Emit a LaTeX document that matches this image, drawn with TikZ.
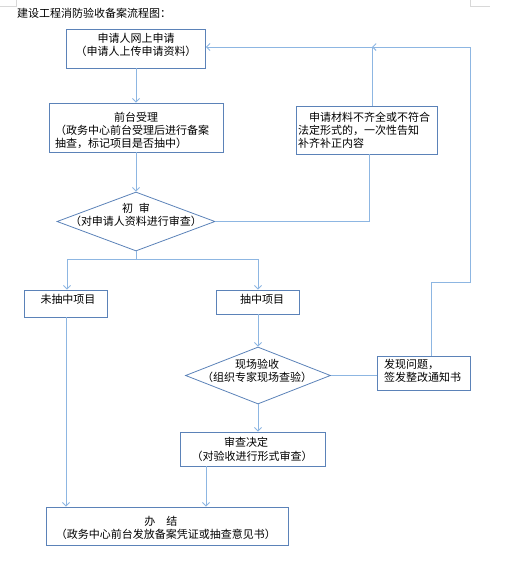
\documentclass[tikz,border=0pt]{standalone}
\usepackage{fontspec}
\newfontfamily\cjk{Noto Sans CJK SC}
\usetikzlibrary{arrows.meta,shapes.geometric,calc}
\definecolor{boxc}{HTML}{5B82B8}
\definecolor{linec}{HTML}{8DB6E2}
\definecolor{markc}{HTML}{D8D8D8}
\begin{document}
\begin{tikzpicture}[x=1pt,y=-1pt,
  font=\cjk\fontsize{11}{13.2}\selectfont,
  box/.style={draw=boxc, line width=0.8pt, inner sep=0pt},
  dia/.style={draw=boxc, line width=0.8pt, shape=diamond, inner sep=0pt},
  txt/.style={inner sep=0pt, align=center},
  ltxt/.style={inner sep=0pt, align=left, anchor=west},
  conn/.style={draw=linec, line width=0.9pt},
  arr/.style={conn, -{Straight Barb[length=3.5pt,width=7pt]}},
  cornermark/.style={draw=markc, line width=0.6pt}]
\useasboundingbox (0,0) rectangle (504,571);
% page corner marks
\coordinate (m1) at (16,0); \coordinate (m2) at (16,6); \coordinate (m3) at (0,6);
\coordinate (m4) at (470,0); \coordinate (m5) at (470,6); \coordinate (m6) at (490,6);
\draw[cornermark] (m1) -- (m2) -- (m3);
\draw[cornermark] (m4) -- (m5) -- (m6);
% title
\node[ltxt] (title) at (17,13) {建设工程消防验收备案流程图：};
% boxes
\node[box, minimum width=139, minimum height=39] (b1) at (136,48.5) {};
\node[txt] (t1) at (136,45) {申请人网上申请\\（申请人上传申请资料）};
\node[box, minimum width=174, minimum height=49] (b2) at (136,127.5) {};
\node[txt] (t2a) at (136,117) {前台受理};
\node[ltxt] (t2b) at (55,136.5) {（政务中心前台受理后进行备案\\抽查，标记项目是否抽中）};
\node[box, minimum width=141, minimum height=48] (b3) at (366.5,130) {};
\node[ltxt] (t3) at (298,130) {\hspace*{11pt}申请材料不齐全或不符合\\法定形式的，一次性告知\\补齐补正内容};
\node[dia, minimum width=158, minimum height=59] (d1) at (136,221.5) {};
\node[txt] (td1) at (136,214.5) {初\hspace{6pt}审\\（对申请人资料进行审查）};
\node[box, minimum width=83, minimum height=27] (n1) at (65.5,303.5) {};
\node[txt] (tn1) at (68,299) {未抽中项目};
\node[box, minimum width=83, minimum height=24] (n2) at (258,302) {};
\node[txt] (tn2) at (262,299) {抽中项目};
\node[dia, minimum width=145, minimum height=57] (d2) at (258,375.5) {};
\node[txt] (td2) at (257,370.5) {现场验收\\（组织专家现场查验）};
\node[box, minimum width=93, minimum height=34] (b4) at (423.5,373) {};
\node[ltxt] (t4) at (384,370.5) {发现问题，\\签发整改通知书};
\node[box, minimum width=145, minimum height=34] (b5) at (252.5,449) {};
\node[txt] (t5a) at (246,442) {审查决定};
\node[txt] (t5b) at (252,456) {（对验收进行形式审查）};
\node[box, minimum width=242, minimum height=38] (b6) at (167,526) {};
\node[txt] (t6) at (166,528) {\hspace*{-10pt}办\hspace{11pt}结\\（政务中心前台发放备案凭证或抽查意见书）};
% junction coordinates
\coordinate (j1) at (372,47);
\coordinate (s1) at (136,259);
\coordinate (r1) at (470,282);
\coordinate (b3in) at (369,154);
\coordinate (b3out) at (372,106);
\coordinate (b4out) at (431,356);
\coordinate (b5out) at (206,466);
% connectors
\draw[arr] (b1.south) -- (b2.north);
\draw[arr] (b2.south) -- (d1.north);
\draw[conn] (d1.east) -| (b3in);
\draw[conn] (b3out) -- (j1);
\draw[arr] (j1) -- (b1.east |- j1);
\draw[arr] (b4out) |- (r1) |- (j1);
\draw[conn] (d1.south) -- (s1);
\draw[arr] (s1) -| ($(n1.north)+(1.5,0)$);
\draw[arr] (s1) -| (n2.north);
\draw[arr] (n2.south) -- (d2.north);
\draw[conn] (d2.east) -- (d2.east -| b4.west);
\draw[arr] (d2.south) -- (d2.south |- b5.north);
\draw[arr] (b5out) -- (b5out |- b6.north);
\draw[arr] ($(n1.south)+(0.5,0)$) -- ($(n1.south |- b6.north)+(0.5,0)$);
\end{tikzpicture}
\end{document}
